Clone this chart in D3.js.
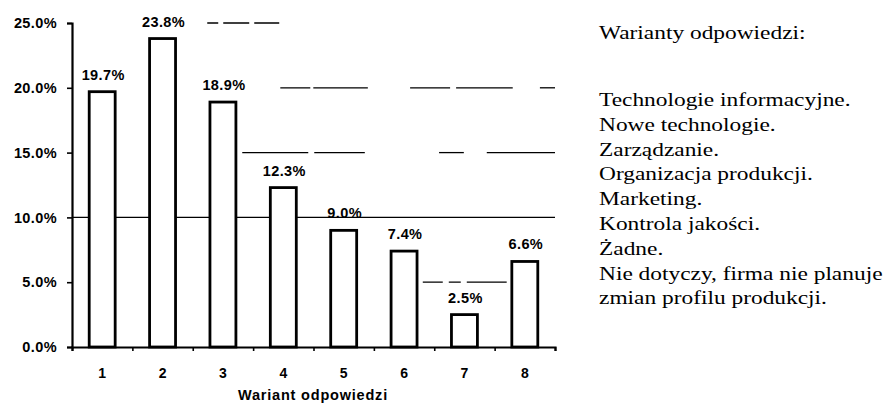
<!DOCTYPE html>
<html>
<head>
<meta charset="utf-8">
<script src="https://cdn.jsdelivr.net/npm/d3@7"></script>
<style>
  body { margin: 0; background: #fff; }
  svg { display: block; }
</style>
</head>
<body>
<div id="chart"></div>
<script>
var categories = ["1", "2", "3", "4", "5", "6", "7", "8"];
var values = [19.7, 23.8, 18.9, 12.3, 9.0, 7.4, 2.5, 6.6];
var yTicks = [0, 5, 10, 15, 20, 25];
var legendTitle = "Warianty odpowiedzi:";
var legendItems = [
  "Technologie informacyjne.",
  "Nowe technologie.",
  "Zarządzanie.",
  "Organizacja produkcji.",
  "Marketing.",
  "Kontrola jakości.",
  "Żadne.",
  "Nie dotyczy, firma nie planuje",
  "zmian profilu produkcji."
];
// visible pieces of the (badly scanned) gridlines, in category units 0..8
var gridPieces = [
  { v: 25, from: 2.24, to: 3.45, dash: "11,5,26,5,25" },
  { v: 20, from: 3.45, to: 4.9, dash: "30,3,60" },
  { v: 20, from: 5.6, to: 7.3, dash: "40,6,60" },
  { v: 20, from: 7.75, to: 8 },
  { v: 15, from: 2.82, to: 4.85, dash: "66,6,200" },
  { v: 15, from: 6.08, to: 6.49 },
  { v: 15, from: 6.87, to: 8 },
  { v: 10, from: 0, to: 8 },
  { v: 5, from: 5.81, to: 7.2, dash: "20,6,12,6,60" }
];

var w = 890, h = 410;
var mLeft = 72, mRight = 555, mTop = 23, mBottom = 347;

var svg = d3.select("#chart").append("svg").attr("width", w).attr("height", h);

var x = d3.scaleBand().domain(categories).range([mLeft, mRight])
  .paddingInner(0.57).paddingOuter(0.285);
var xLin = d3.scaleLinear().domain([0, 8]).range([mLeft, mRight]);
var y = d3.scaleLinear().domain([0, 25]).range([mBottom, mTop]);

var sans = "Liberation Sans, Arial, sans-serif";

// gridlines
svg.append("g")
  .selectAll("line")
  .data(gridPieces)
  .enter()
  .append("line")
  .attr("x1", function (d) { return xLin(d.from); })
  .attr("x2", function (d) { return xLin(d.to); })
  .attr("y1", function (d) { return y(d.v); })
  .attr("y2", function (d) { return y(d.v); })
  .attr("stroke", "#000")
  .attr("stroke-width", 1.3)
  .attr("stroke-dasharray", function (d) { return d.dash || null; });

// bars
svg.append("g")
  .selectAll("rect")
  .data(values)
  .enter()
  .append("rect")
  .attr("x", function (d, i) { return x(categories[i]); })
  .attr("y", function (d) { return y(d); })
  .attr("width", x.bandwidth())
  .attr("height", function (d) { return y(0) - y(d); })
  .attr("fill", "#fff")
  .attr("stroke", "#000")
  .attr("stroke-width", 2.8);

// value labels
svg.append("g")
  .selectAll("text")
  .data(values)
  .enter()
  .append("text")
  .attr("x", function (d, i) { return x(categories[i]) + x.bandwidth() / 2 + 1; })
  .attr("y", function (d) { return y(d) - 12; })
  .attr("text-anchor", "middle")
  .style("font-family", sans)
  .style("font-weight", "bold")
  .style("font-size", "14.5px")
  .style("letter-spacing", "0.4px")
  .text(function (d) { return d3.format(".1f")(d) + "%"; });

// y axis
var yAxis = svg.append("g")
  .attr("transform", "translate(" + mLeft + ",0)")
  .call(d3.axisLeft(y).tickValues(yTicks).tickSize(5).tickPadding(10)
    .tickFormat(function (d) { return d3.format(".1f")(d) + "%"; }));
yAxis.select(".domain").attr("stroke-width", 2.2);
yAxis.selectAll(".tick line").attr("stroke-width", 1.6);
yAxis.selectAll("text")
  .style("font-family", sans)
  .style("font-weight", "bold")
  .style("font-size", "14.5px")
  .style("letter-spacing", "0.4px")
  .attr("fill", "#000");

// x axis: ticks at category boundaries
var xAxis = svg.append("g")
  .attr("transform", "translate(0," + mBottom + ")")
  .call(d3.axisBottom(xLin).tickValues(d3.range(0, 9)).tickSize(4).tickFormat(""));
xAxis.select(".domain").attr("stroke-width", 2.2);
xAxis.selectAll(".tick line").attr("stroke-width", 1.6);

// x category labels
var xLab = svg.append("g")
  .attr("transform", "translate(0," + mBottom + ")")
  .call(d3.axisBottom(x).tickSize(0).tickPadding(21));
xLab.select(".domain").remove();
xLab.selectAll("text")
  .style("font-family", sans)
  .style("font-weight", "bold")
  .style("font-size", "14px")
  .attr("fill", "#000");

svg.append("text")
  .attr("x", 313)
  .attr("y", 400)
  .attr("text-anchor", "middle")
  .style("font-family", sans)
  .style("font-weight", "bold")
  .style("font-size", "14.5px")
  .style("letter-spacing", "0.8px")
  .text("Wariant odpowiedzi");

// legend text on the right (scan is stretched horizontally)
var legend = svg.append("g").attr("transform", "translate(599,0) scale(1.3,1)")
  .style("font-family", "Liberation Serif, Times New Roman, serif")
  .style("font-size", "18px");
legend.append("text").attr("y", 39).text(legendTitle);
legend.selectAll("text.item")
  .data(legendItems)
  .enter()
  .append("text")
  .attr("class", "item")
  .attr("y", function (d, i) { return 106 + i * 24.8; })
  .text(function (d) { return d; });
</script>
</body>
</html>
